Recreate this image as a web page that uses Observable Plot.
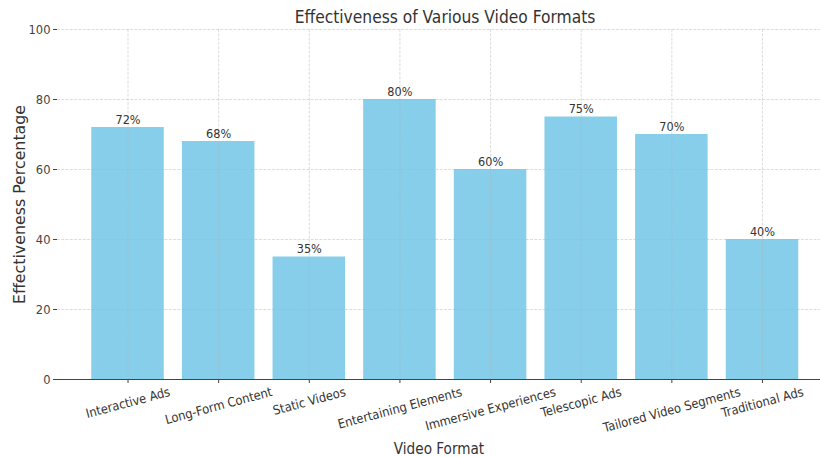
<!DOCTYPE html>
<html>
<head>
<meta charset="utf-8">
<script src="https://cdn.jsdelivr.net/npm/d3@7"></script>
<script src="https://cdn.jsdelivr.net/npm/@observablehq/plot@0.6"></script>
<style>
  html, body { margin: 0; padding: 0; background: white; }
  #wrap { position: relative; width: 820px; height: 457px; overflow: hidden; }
  #title { position: absolute; left: 57px; width: 776px; top: 7px; text-align: center; line-height: 20px; color: #333; white-space: nowrap; }
  #chart { position: absolute; left: 0; top: 0; }
</style>
</head>
<body>
<div id="wrap">
  <div id="chart"></div>
  <div id="title">Effectiveness of Various Video Formats</div>
</div>
<script>
const categories = ["Interactive Ads", "Long-Form Content", "Static Videos", "Entertaining Elements", "Immersive Experiences", "Telescopic Ads", "Tailored Video Segments", "Traditional Ads"];
const values = [72, 68, 35, 80, 60, 75, 70, 40];
const yTicks = [0, 20, 40, 60, 80, 100];

const data = categories.map((c, i) => ({format: c, value: values[i]}));

// font choice: narrow glyphs like the reference (condensed face if installed)
const ctx = document.createElement("canvas").getContext("2d");
const sample = "Effectiveness Percentage Video Format";
ctx.font = '100px "DejaVu Sans"';
const wReg = ctx.measureText(sample).width;
ctx.font = '100px "DejaVu Sans Condensed", "DejaVu Sans"';
const wCond = ctx.measureText(sample).width;
const useCond = wCond < wReg * 0.97;
const f = useCond ? wCond / wReg : 1;
const FAM = useCond ? '"DejaVu Sans Condensed", "DejaVu Sans", sans-serif' : '"DejaVu Sans", sans-serif';
const REG = '"DejaVu Sans", sans-serif';
const sz = s => +(s / f).toFixed(2);

const tickSize = sz(11.5);
const valSize = sz(11.3);
const labSize = sz(13.6);
const titleSize = sz(15.5);

const titleEl = document.getElementById("title");
titleEl.style.fontFamily = FAM;
titleEl.style.fontSize = titleSize + "px";

ctx.font = `${tickSize}px ${FAM}`;
const ang = 15 * Math.PI / 180;
const labelMarks = categories.map(c => {
  const w = ctx.measureText(c).width;
  const h = tickSize * 1.17;
  const half = (w * Math.sin(ang) + h * Math.cos(ang)) / 2;
  return Plot.text([c], {
    x: d => d, frameAnchor: "bottom", rotate: -15, dy: 5 + half,
    lineAnchor: "middle", textAnchor: "middle", fontSize: tickSize, fill: "#333", fontFamily: FAM
  });
});

const gridStyle = {stroke: "#b0b0b0", strokeOpacity: 0.55, strokeWidth: 0.8, strokeDasharray: "3,1.3"};

const chart = Plot.plot({
  width: 820,
  height: 457,
  marginLeft: 57,
  marginRight: 0,
  marginTop: 29,
  marginBottom: 78,
  style: {fontFamily: FAM, background: "white", overflow: "visible"},
  x: {domain: categories, range: [57, 832.5], paddingInner: 0.2, paddingOuter: 0.378, round: false, label: null, axis: null},
  y: {domain: [0, 100], label: null, axis: null},
  marks: [
    Plot.barY(data, {x: "format", y: "value", fill: "#87CEEB"}),
    Plot.gridY(yTicks, gridStyle),
    Plot.gridX(categories, gridStyle),
    Plot.text(data, {x: "format", y: "value", text: d => d.value + "%", lineAnchor: "bottom", dy: -4, fontSize: valSize, fill: "#333", fontFamily: FAM}),
    Plot.axisY({ticks: yTicks, tickSize: 4, tickPadding: 3, fontSize: tickSize, color: "#444", label: null, line: true, fontFamily: FAM}),
    Plot.axisX({tickSize: 4, tickFormat: () => "", label: null, color: "#444"}),
    Plot.ruleY([0], {stroke: "#444"}),
    ...labelMarks,
    Plot.text(["Effectiveness Percentage"], {frameAnchor: "left", dx: -38, rotate: -90, fontSize: 15.8, fill: "#333", textAnchor: "middle", lineAnchor: "middle", fontFamily: REG}),
    Plot.text(["Video Format"], {frameAnchor: "bottom", dy: 70, fontSize: labSize, fill: "#333", textAnchor: "middle", lineAnchor: "middle", fontFamily: FAM})
  ]
});
document.getElementById("chart").appendChild(chart);
</script>
</body>
</html>
